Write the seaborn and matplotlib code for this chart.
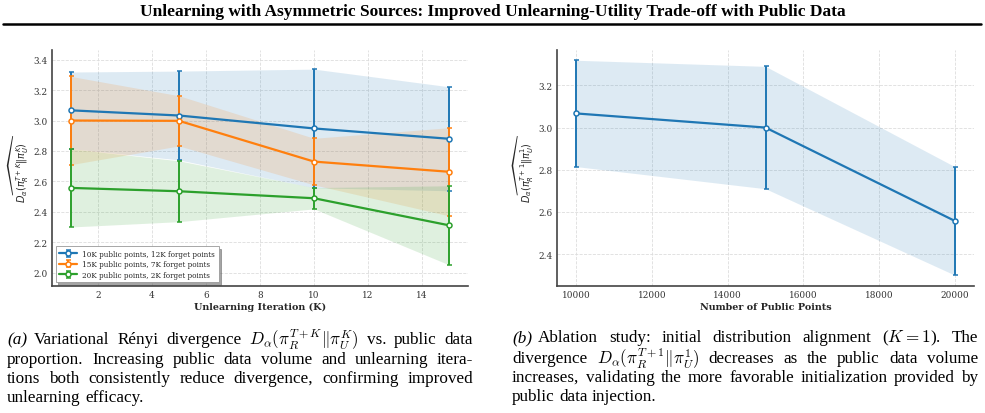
import matplotlib
matplotlib.use('Agg')
import matplotlib.pyplot as plt
import seaborn as sns
from matplotlib.lines import Line2D

# data
iterations = [1, 5, 10, 15]
series_labels = ['10K public points, 12K forget points',
                 '15K public points, 7K forget points',
                 '20K public points, 2K forget points']
mean_10k = [3.067, 3.033, 2.948, 2.880]
err_10k = [0.252, 0.292, 0.390, 0.342]
mean_15k = [3.000, 2.998, 2.730, 2.663]
err_15k = [0.290, 0.165, 0.153, 0.290]
mean_20k = [2.557, 2.535, 2.489, 2.311]
err_20k = [0.257, 0.200, 0.070, 0.260]

public_points = [10000, 15000, 20000]
ablation_mean = [3.067, 3.000, 2.557]
ablation_err = [0.252, 0.290, 0.257]

sns.set_theme(style='whitegrid')
plt.rcParams['font.family'] = ['DejaVu Serif']
plt.rcParams['axes.edgecolor'] = '#444444'
plt.rcParams['axes.linewidth'] = 1.2
plt.rcParams['grid.linestyle'] = '--'
plt.rcParams['grid.color'] = '#dddddd'
plt.rcParams['grid.linewidth'] = 0.6
plt.rcParams['xtick.color'] = '#333333'
plt.rcParams['ytick.color'] = '#333333'

pal = sns.color_palette('tab10')
W, H = 985, 414
fig = plt.figure(figsize=(W / 100, H / 100), dpi=100)

def box(x0, y0, x1, y1):
    return [x0 / W, 1 - y1 / H, (x1 - x0) / W, (y1 - y0) / H]

ax1 = fig.add_axes(box(52, 50.5, 468, 287))
ax2 = fig.add_axes(box(557, 50.5, 974, 287))

ebkw = dict(fmt='-o', lw=1.6, ms=3.6, mfc='white', mew=1.1,
            capsize=1.8, capthick=1.1, elinewidth=1.4)

means = [mean_10k, mean_15k, mean_20k]
errs = [err_10k, err_15k, err_20k]
for i in range(3):
    lo = [m - e for m, e in zip(means[i], errs[i])]
    hi = [m + e for m, e in zip(means[i], errs[i])]
    ax1.fill_between(iterations, lo, hi, color=pal[i], alpha=0.15, lw=0)
    ax1.errorbar(iterations, means[i], yerr=errs[i], color=pal[i],
                 label=series_labels[i], **ebkw)

ax1.set_ylim(1.912, 3.467)
ax1.set_xlabel('Unlearning Iteration (K)', fontsize=6.9, fontweight='bold', labelpad=2)
ax1.set_ylabel(r'$\widehat{D_\alpha(\pi_R^{T+K}\|\pi_U^K)}$', fontsize=7, labelpad=2)
leg = ax1.legend(loc='lower left', fontsize=5.2, shadow=True, fancybox=False,
                 frameon=True, borderpad=0.5, handlelength=2.4, labelspacing=0.35)
leg.get_frame().set_edgecolor('#999999')
leg.get_frame().set_linewidth(0.6)

lo = [m - e for m, e in zip(ablation_mean, ablation_err)]
hi = [m + e for m, e in zip(ablation_mean, ablation_err)]
ax2.fill_between(public_points, lo, hi, color=pal[0], alpha=0.15, lw=0)
ax2.errorbar(public_points, ablation_mean, yerr=ablation_err, color=pal[0], **ebkw)
ax2.set_xlabel('Number of Public Points', fontsize=6.9, fontweight='bold', labelpad=2)
ax2.set_ylabel(r'$\widehat{D_\alpha(\pi_R^{T+1}\|\pi_U^1)}$', fontsize=7, labelpad=2)
ax2.set_yticks([2.4, 2.6, 2.8, 3.0, 3.2])

for ax in (ax1, ax2):
    sns.despine(ax=ax)
    ax.tick_params(labelsize=6.4, length=0, pad=3)
    ax.grid(True, linestyle='--', color='#dddddd', lw=0.6)

# page title and rule
fig.text(0.5, 1 - 12 / H, 'Unlearning with Asymmetric Sources: Improved Unlearning-Utility '
         'Trade-off with Public Data', ha='center', va='center', color='black',
         family='Liberation Serif', fontweight='bold', fontsize=12.5)
fig.add_artist(Line2D([3 / W, 981 / W], [1 - 25 / H, 1 - 25 / H], color='black', lw=1.8))

# captions, justified by word
renderer = fig.canvas.get_renderer()
cap_kw = dict(family='Liberation Serif', fontsize=12.3, math_fontfamily='cm',
              va='center', color='black')

def text_width(s):
    t = fig.text(0, 0, s, **cap_kw)
    w = t.get_window_extent(renderer).width
    t.remove()
    return w

space = text_width('a a') - 2 * text_width('a')

def put_line(words, x0, x1, y, justify):
    objs = [fig.text(0, 1 - y / H, w, **cap_kw) for w in words]
    widths = [o.get_window_extent(renderer).width for o in objs]
    gap = space
    if justify and len(words) > 1:
        gap = (x1 - x0 - sum(widths)) / (len(words) - 1)
    x = x0
    for o, w in zip(objs, widths):
        o.set_x(x / W)
        x += w + gap

def caption(tag, lines, x_tag, x_text, x_end, ys):
    fig.text(x_tag / W, 1 - ys[0] / H, tag, style='italic', **cap_kw)
    for k, (line, y) in enumerate(zip(lines, ys)):
        x0 = x_text if k == 0 else x_tag
        put_line(line.split(' '), x0, x_end, y, k < len(lines) - 1)

caption('(a)', [r'Variational Rényi divergence $D_\alpha(\pi_R^{T+K}\|\pi_U^K)$ vs. public data',
                'proportion. Increasing public data volume and unlearning itera-',
                'tions both consistently reduce divergence, confirming improved',
                'unlearning efficacy.'],
        7, 34, 473, [340, 360, 379, 398])
caption('(b)', [r'Ablation study: initial distribution alignment ($K=1$). The',
                r'divergence $D_\alpha(\pi_R^{T+1}\|\pi_U^1)$ decreases as the public data volume',
                'increases, validating the more favorable initialization provided by',
                'public data injection.'],
        512, 538, 978, [338, 359, 378, 397])

fig.savefig('out.png', dpi=100)
